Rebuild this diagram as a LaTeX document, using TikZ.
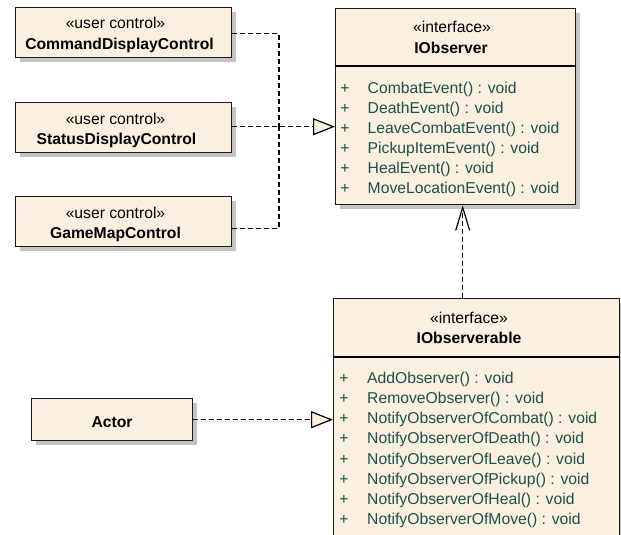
\documentclass[tikz,border=0pt]{standalone}
\usepackage{fontspec}
\setmainfont{Liberation Sans}
\usetikzlibrary{arrows.meta,shadows}
\definecolor{umlfill}{HTML}{FAF0E2}
\definecolor{umlop}{RGB}{30,80,75}
\definecolor{umlshadow}{HTML}{C4C4C4}

\begin{document}
\begin{tikzpicture}[x=1pt,y=-1pt,
  umlbox/.style={draw=black!90, line width=1.4pt, fill=umlfill, anchor=north west,
    inner sep=0pt,
    drop shadow={shadow xshift=4pt, shadow yshift=-4pt, fill=umlshadow, opacity=1}},
  lbl/.style={anchor=base, inner sep=0pt, font=\fontsize{15.7}{20}\selectfont},
  ttl/.style={lbl, font=\fontsize{15.7}{20}\selectfont\bfseries},
  plus/.style={lbl, text=umlop},
  op/.style={lbl, anchor=base west, text=umlop},
  dep/.style={line width=1.2pt, dash pattern=on 5pt off 3pt},
  realize/.style={dep, -{Triangle[length=22pt,width=17pt,fill=umlfill,line width=1.2pt]}},
  uses/.style={dep, -{Straight Barb[length=23pt,width=14pt,line width=1.2pt]}}]

\path[clip] (0,0) rectangle (621,535);

% user controls
\node[umlbox, minimum width=216pt, minimum height=50pt] (cmd) at (15,7) {};
\node[umlbox, minimum width=216pt, minimum height=50pt] (status) at (15,102) {};
\node[umlbox, minimum width=216pt, minimum height=50pt] (gm) at (15,196) {};
\node[lbl] (cmdS) at (115.5,29) {«user control»};
\node[ttl] (cmdN) at (119.5,49.3) {CommandDisplayControl};
\node[lbl] (statusS) at (115.5,124) {«user control»};
\node[ttl] (statusN) at (116.5,144.3) {StatusDisplayControl};
\node[lbl] (gmS) at (115.5,218) {«user control»};
\node[ttl] (gmN) at (115.5,238.3) {GameMapControl};

% actor
\node[umlbox, minimum width=161pt, minimum height=42pt] (actor) at (31,398) {};
\node[ttl] (actorN) at (112,427) {Actor};

% IObserver interface
\node[umlbox, minimum width=240pt, minimum height=196pt] (iobs) at (335,8) {};
\draw[line width=1.4pt] ([yshift=-58pt]iobs.north west) -- ([yshift=-58pt]iobs.north east);
\node[lbl] (iobsS) at (452,33) {«interface»};
\node[ttl] (iobsN) at (451,53.3) {IObserver};
\foreach \t [count=\i from 0] in {CombatEvent() : void, DeathEvent() : void,
    LeaveCombatEvent() : void, PickupItemEvent() : void, HealEvent() : void,
    MoveLocationEvent() : void} {
  \node[plus] (obsplus\i) at (345,{93.3+20.05*\i}) {+};
  \node[op] (obsop\i) at (367.5,{93.3+20.05*\i}) {\t};
}

% IObserverable interface
\node[umlbox, minimum width=286pt, minimum height=260pt] (iobl) at (333,298) {};
\draw[line width=1.4pt] ([yshift=-59pt]iobl.north west) -- ([yshift=-59pt]iobl.north east);
\node[lbl] (iblS) at (469,323) {«interface»};
\node[ttl] (iblN) at (469,343.3) {IObserverable};
\foreach \t [count=\i from 0] in {AddObserver() : void, RemoveObserver() : void,
    NotifyObserverOfCombat() : void, NotifyObserverOfDeath() : void,
    NotifyObserverOfLeave() : void, NotifyObserverOfPickup() : void,
    NotifyObserverOfHeal() : void, NotifyObserverOfMove() : void} {
  \node[plus] (iblplus\i) at (344,{383.8+20.05*\i}) {+};
  \node[op] (iblop\i) at (367,{383.8+20.05*\i}) {\t};
}

% connectors
\coordinate (junc) at (279,126);
\draw[dep] ([yshift=-1pt]cmd.east) -| (junc);
\draw[dep] ([yshift=-7pt]gm.east) -| (junc);
\draw[realize] ([yshift=1pt]status.east) -- ([yshift=1pt]status.east -| iobs.west);
\draw[realize] (actor.east) -- (actor.east -| iobl.west);
\draw[uses] ([xshift=-14pt]iobl.north) -- ([xshift=-14pt]iobl.north |- iobs.south);
\end{tikzpicture}
\end{document}
